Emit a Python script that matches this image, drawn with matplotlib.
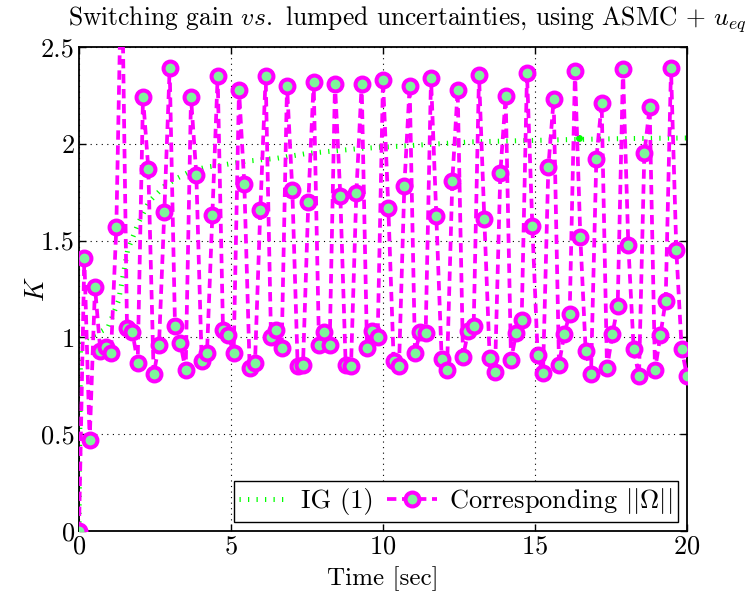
import numpy as np
import matplotlib
matplotlib.use("Agg")
import matplotlib.pyplot as plt

# ---- data -------------------------------------------------------------
t_end = 20.0
omega_norm = [
    0.00, 1.41, 0.47, 1.26, 0.93, 0.95, 0.92, 1.57, 3.00, 1.05,
    1.03, 0.87, 2.24, 1.87, 0.81, 0.96, 1.65, 2.39, 1.06, 0.97,
    0.83, 2.24, 1.84, 0.88, 0.92, 1.63, 2.35, 1.04, 1.01, 0.92,
    2.28, 1.79, 0.84, 0.87, 1.66, 2.35, 1.00, 1.04, 0.945, 2.30,
    1.76, 0.85, 0.86, 1.70, 2.32, 0.96, 1.03, 0.96, 2.31, 1.73,
    0.86, 0.85, 1.745, 2.31, 0.945, 1.035, 1.00, 2.33, 1.67, 0.88,
    0.85, 1.78, 2.30, 0.92, 1.03, 1.025, 2.34, 1.625, 0.89, 0.83,
    1.81, 2.28, 0.90, 1.035, 1.06, 2.355, 1.61, 0.895, 0.82, 1.85,
    2.245, 0.885, 1.025, 1.09, 2.365, 1.575, 0.91, 0.815, 1.88, 2.23,
    0.86, 1.02, 1.12, 2.375, 1.52, 0.93, 0.81, 1.92, 2.21, 0.84,
    1.015, 1.16, 2.385, 1.475, 0.94, 0.80, 1.95, 2.19, 0.83, 1.01,
    1.19, 2.39, 1.45, 0.94, 0.80,
]
t_omega = np.linspace(0.0, t_end, len(omega_norm))

t_gain = [0.0, 0.05, 0.3, 0.6, 0.95, 1.3, 1.6, 1.95, 2.3, 2.8, 3.2, 3.7,
          4.2, 4.7, 5.5, 6.5, 7.5, 9.2, 10.8, 12.9, 16.2, 18.0, 20.0]
k_gain = [0.0, 0.97, 1.0, 1.02, 1.05, 1.19, 1.45, 1.59, 1.70, 1.78, 1.82, 1.86,
          1.88, 1.89, 1.91, 1.925, 1.95, 1.975, 1.99, 2.01, 2.022, 2.027, 2.03]
gain_dot_t = [16.45]
gain_dot_k = [2.03]

# ---- style ------------------------------------------------------------
plt.rcParams.update({
    "font.family": "serif",
    "font.serif": ["cmr10"],
    "mathtext.fontset": "cm",
    "axes.formatter.use_mathtext": True,
    "axes.unicode_minus": False,
})

MAGENTA = "#ff00ff"
GREEN = "#00ff00"
FACE = "#7ff59b"

fig = plt.figure(figsize=(7.47, 5.96), dpi=100)
ax = fig.add_axes([79 / 747, 1 - 531 / 596, 608 / 747, 484 / 596])

ax.plot(t_gain, k_gain, color=GREEN, lw=3.6,
        linestyle=(0, (0.25, 1.45)), dash_capstyle="butt",
        label="IG (1)", zorder=2)
ax.plot(gain_dot_t, gain_dot_k, "o", color=GREEN, ms=4, zorder=2)

ax.plot(t_omega, omega_norm, color=MAGENTA, lw=2.7,
        linestyle=(0, (2.5, 1.5)), dash_capstyle="butt",
        marker="o", ms=10, mew=2.9, mfc=FACE, mec=MAGENTA,
        label=r"Corresponding $||\Omega||$", zorder=3)

ax.set_xlim(0, 20)
ax.set_ylim(0, 2.5)
ax.set_xticks([0, 5, 10, 15, 20])
ax.set_yticks([0, 0.5, 1, 1.5, 2, 2.5])
ax.set_yticklabels(["0", "0.5", "1", "1.5", "2", "2.5"])
ax.tick_params(direction="in", top=True, right=True, labelsize=19,
               length=5, width=1, pad=3)
ax.grid(True, color="black", linestyle=(0, (1, 4)), linewidth=0.8)
for s in ax.spines.values():
    s.set_linewidth(1.3)

ax.set_xlabel("Time [sec]", fontsize=18)
ax.xaxis.set_label_coords(0.5, -0.072)
ax.set_ylabel(r"$K$", fontsize=19)
ax.yaxis.set_label_coords(-0.05, 0.5)
fig.text(68 / 747, 1 - 25 / 596,
         r"Switching gain $vs.$ lumped uncertainties, using ASMC + $u_{eq}$",
         fontsize=18.4, ha="left", va="baseline")

leg = ax.legend(loc="lower right", ncol=2, fontsize=19, numpoints=1,
                handlelength=1.9, handletextpad=0.45, columnspacing=0.5,
                borderaxespad=0.35, borderpad=0.2, fancybox=False,
                framealpha=1, edgecolor="black")
leg.get_frame().set_linewidth(1.0)

fig.savefig("out.png", dpi=100)
